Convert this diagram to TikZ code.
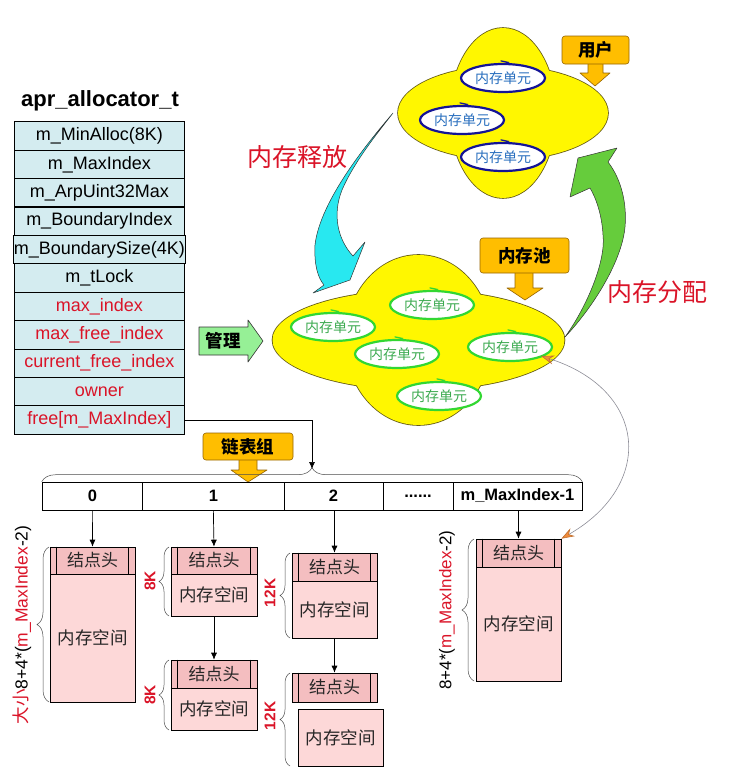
\documentclass[tikz,border=0pt]{standalone}
\usepackage{fontspec}
\setmainfont{Liberation Sans}
\newfontfamily\cjk{Noto Sans CJK SC}
\usetikzlibrary{decorations.pathreplacing,arrows.meta,shapes.geometric,calc}
\definecolor{tabfill}{RGB}{212,236,240}
\definecolor{redtxt}{RGB}{218,20,40}
\definecolor{gold}{RGB}{255,190,0}
\definecolor{goldedge}{RGB}{150,100,0}
\definecolor{cloudy}{RGB}{255,247,0}
\definecolor{cloudedge}{RGB}{100,90,20}
\definecolor{cyanarr}{RGB}{40,232,240}
\definecolor{greenarr}{RGB}{102,204,60}
\definecolor{mgmt}{RGB}{150,240,150}
\definecolor{pinkh}{RGB}{244,190,192}
\definecolor{pinkb}{RGB}{253,216,216}
\definecolor{ublue}{RGB}{20,20,150}
\definecolor{ubluetxt}{RGB}{40,110,190}
\definecolor{ugreen}{RGB}{50,215,50}
\definecolor{ugreentxt}{RGB}{60,170,80}
\definecolor{grayline}{RGB}{140,140,150}
\definecolor{orangetip}{RGB}{240,140,60}
\begin{document}
\begin{tikzpicture}[x=1pt,y=-1pt,
  row/.style={draw, fill=tabfill, minimum width=170, minimum height=28.4, inner sep=0pt, line width=0.6pt, font=\fontsize{18}{19}\selectfont},
  redrow/.style={row, text=redtxt},
  idx/.style={draw, minimum height=28, inner sep=0pt, line width=0.6pt, font=\bfseries\fontsize{16.5}{18}\selectfont},
  hdr/.style={draw, fill=pinkh, inner sep=0pt, line width=0.6pt, minimum width=85, text=black!85, font=\cjk\fontsize{17}{18}\selectfont},
  bdy/.style={draw, fill=pinkb, inner sep=0pt, line width=0.6pt, minimum width=85, text=black!85, font=\cjk\fontsize{17.5}{18}\selectfont},
  brc/.style={decorate, decoration={brace, amplitude=#1}, draw=black!70, line width=0.5pt},
  sz/.style={rotate=90, text=redtxt, font=\bfseries\fontsize{15.5}{16}\selectfont},
  callout/.style={draw=goldedge, fill=gold, rounded corners=3pt, line width=0.6pt, inner sep=0pt, font=\cjk\bfseries\fontsize{17.5}{18}\selectfont},
  calarrow/.style={draw=goldedge, fill=gold, line width=0.6pt, line join=round},
  unitb/.style={ellipse, draw=ublue, line width=2.2pt, fill=white, minimum width=84, minimum height=28, inner sep=0pt, text=ubluetxt, font=\cjk\fontsize{14}{14}\selectfont},
  unitg/.style={unitb, draw=ugreen, text=ugreentxt},
  hookb/.style={ublue, line width=1.3pt, line cap=round},
  hookg/.style={ugreen, line width=1.3pt, line cap=round},
  bigred/.style={text=redtxt, font=\cjk\fontsize{25}{26}\selectfont},
  conn/.style={-{Latex[length=7pt,width=6pt]}, line width=0.7pt}]
\useasboundingbox (0,0) rectangle (751,772);

% ---------- clouds ----------
\draw[cloudedge, line width=1.6pt] (503,113) ellipse [x radius=105, y radius=47];
\draw[cloudedge, line width=1.6pt] (503,113) ellipse [x radius=53, y radius=85];
\fill[cloudy] (503,113) ellipse [x radius=105, y radius=47];
\fill[cloudy] (503,113) ellipse [x radius=53, y radius=85];

\draw[cloudedge, line width=1.6pt] (418.5,340) ellipse [x radius=146, y radius=50];
\draw[cloudedge, line width=1.6pt] (418.5,340) ellipse [x radius=73, y radius=85];
\fill[cloudy] (418.5,340) ellipse [x radius=146, y radius=50];
\fill[cloudy] (418.5,340) ellipse [x radius=73, y radius=85];

% ---------- curved arrows ----------
\draw[fill=greenarr, draw=black!80, line width=0.5pt, line join=round]
  (565,337) .. controls (588,305) and (606,260) .. (603,235)
  .. controls (602,215) and (596,198) .. (590,188)
  -- (570,197) -- (578,158) -- (617,148) -- (608,162)
  .. controls (622,180) and (627,205) .. (625,227)
  .. controls (622,260) and (595,305) .. (565,337) -- cycle;
\draw[fill=cyanarr, draw=black!80, line width=0.5pt, line join=round]
  (393,113) .. controls (370,140) and (320,200) .. (315,245)
  .. controls (314,265) and (318,278) .. (324,285)
  -- (313,293) -- (350,280) -- (365,242) -- (353,256)
  .. controls (338,240) and (332,215) .. (342,190)
  .. controls (355,160) and (380,130) .. (393,113) -- cycle;
\node[bigred] (rel) at (297,157) {内存释放};
\node[bigred] (alloc) at (657,292) {内存分配};

% ---------- memory units ----------
\node[unitb] (u1) at (503,78) {内存单元};
\node[unitb] (u2) at (462,120) {内存单元};
\node[unitb] (u3) at (503,157) {内存单元};
\node[unitg] (pa) at (333,327) {内存单元};
\node[unitg] (pb) at (432,305) {内存单元};
\node[unitg] (pc) at (397,354) {内存单元};
\node[unitg] (pd) at (510,347) {内存单元};
\node[unitg] (pe) at (439,396) {内存单元};
\foreach \u in {u1,u2,u3}
  \draw[hookb] ([xshift=-2pt,yshift=2pt]\u.north) -- ++(7pt,-1.5pt) -- ++(-3pt,-2pt);
\foreach \u in {pa,pb,pc,pd,pe}
  \draw[hookg] ([xshift=-2pt,yshift=2pt]\u.north) -- ++(7pt,-1.5pt) -- ++(-3pt,-2pt);

% ---------- callouts ----------
\draw[calarrow] (588,60) -- (588,73) -- (580,73) -- (595,86) -- (610,73) -- (603,73) -- (603,60) -- cycle;
\node[callout, minimum width=67, minimum height=28] (user) at (595.5,50) {用户};
\draw[calarrow] (515,268) -- (515,288) -- (507,288) -- (525,300) -- (543,288) -- (533,288) -- (533,268) -- cycle;
\node[callout, minimum width=89, minimum height=35] (pool) at (524.5,255.5) {内存池};
\draw[calarrow] (239,455) -- (239,470) -- (231,470) -- (248,482) -- (267,470) -- (257,470) -- (257,455) -- cycle;
\node[callout, minimum width=90, minimum height=27] (list) at (248,446.5) {链表组};

% manage arrow
\draw[fill=mgmt, draw=black!80, line width=0.6pt, line join=round]
  (199,327) -- (248,327) -- (248,320) -- (263,341) -- (248,362) -- (248,355) -- (199,355) -- cycle;
\node[font=\cjk\bfseries\fontsize{17.5}{18}\selectfont] (mg) at (223,341) {管理};

% ---------- allocator table ----------
\node[font=\bfseries\fontsize{22}{23}\selectfont] (title) at (100,101) {apr\_allocator\_t};
\node[row] (r0) at (99.3,135.9) {m\_MinAlloc(8K)};
\node[row] (r1) at (99.3,164.3) {m\_MaxIndex};
\node[row] (r2) at (99.3,192.7) {m\_ArpUint32Max};
\node[row] (r3) at (99.3,221.1) {m\_BoundaryIndex};
\node[row] (r4) at (99.3,249.5) {m\_BoundarySize(4K)};
\node[row] (r5) at (99.3,277.9) {m\_tLock};
\node[redrow] (r6) at (99.3,306.3) {max\_index};
\node[redrow] (r7) at (99.3,334.7) {max\_free\_index};
\node[redrow] (r8) at (99.3,363.1) {current\_free\_index};
\node[redrow] (r9) at (99.3,391.5) {owner};
\node[redrow] (r10) at (99.3,419.9) {free[m\_MaxIndex]};
\foreach \r in {r2,r5,r8}
  \draw[line width=1.6pt] (\r.south west) -- (\r.south east);

% ---------- index array ----------
\node[idx, minimum width=100.7] (c0) at (92.35,496) {0};
\node[idx, minimum width=141.3] (c1) at (213.35,496) {1};
\node[idx, minimum width=99] (c2) at (333.5,496) {2};
\node[idx, minimum width=70] (c3) at (418,496) {......};
\node[idx, minimum width=129] (c4) at (517.5,496) {m\_MaxIndex-1};
\draw[brc=14pt] (c0.north west) -- (c4.north east);
\coordinate (btip) at (312,469);
\draw[conn] (r10.east) -| (btip);

% ---------- list nodes ----------
\node[hdr, minimum height=27] (h0) at (92.5,560.5) {结点头};
\node[bdy, minimum height=128] (b0) at (92.5,638) {内存空间};
\node[hdr, minimum height=27, minimum width=86] (h1a) at (214,560.5) {结点头};
\node[bdy, minimum height=42, minimum width=86] (b1a) at (214,595) {内存空间};
\node[hdr, minimum height=28, minimum width=86] (h1b) at (214,674) {结点头};
\node[bdy, minimum height=42, minimum width=86] (b1b) at (214,709) {内存空间};
\draw[line width=1.4pt] (h1b.south west) -- (h1b.south east);
\node[hdr, minimum height=28] (h2a) at (334.5,567) {结点头};
\node[bdy, minimum height=57] (b2a) at (334.5,609.5) {内存空间};
\node[hdr, minimum height=29] (h2b) at (334.5,687.5) {结点头};
\node[bdy, minimum height=57] (b2b) at (340.5,737.5) {内存空间};
\node[hdr, minimum height=28] (h4) at (518.5,553) {结点头};
\node[bdy, minimum height=114] (b4) at (518.5,624) {内存空间};
\foreach \n in {h0,h1a,h1b,h2a,h2b,h4} {
  \draw[line width=0.6pt] ([xshift=7]\n.north west) -- ([xshift=7]\n.south west);
  \draw[line width=0.6pt] ([xshift=-7]\n.north east) -- ([xshift=-7]\n.south east);
}

\draw[conn] (c0.south) -- (h0.north);
\draw[conn] (c1.south) -- (h1a.north);
\draw[conn] (b1a.south) -- (h1b.north);
\draw[conn] (c2.south -| h2a.north) -- (h2a.north);
\draw[conn] (b2a.south) -- (h2b.north);
\draw[conn] (c4.south -| h4.north) -- (h4.north);

% ---------- braces and sizes ----------
\draw[brc=12pt] (49,702) -- (49,547);
\draw[brc=10pt] (169,616) -- (169,547);
\draw[brc=10pt] (169,730) -- (169,660);
\draw[brc=10pt] (290,638) -- (290,553);
\draw[brc=10pt] (290,766) -- (290,673);
\draw[brc=12pt] (474,681) -- (474,539);
\node[sz] (s1a) at (150,581) {8K};
\node[sz] (s1b) at (150,695) {8K};
\node[sz] (s2a) at (270,593) {12K};
\node[sz] (s2b) at (270,716) {12K};
\node[rotate=90, font=\fontsize{17.5}{18}\selectfont] (lab0) at (22,625)
  {\textcolor{redtxt}{\cjk 大小}8+4*(\textcolor{redtxt}{m\_MaxIndex}-2)};
\node[rotate=90, font=\fontsize{17}{18}\selectfont] (lab4) at (447,610)
  {8+4*(\textcolor{redtxt}{m\_MaxIndex}-2)};

% ---------- pool <-> last node link ----------
\coordinate (pend) at (541,356);
\draw[grayline, line width=0.6pt,
  {Stealth[length=13pt,width=9pt,fill=orangetip,color=orangetip!80!black]}-{Stealth[length=13pt,width=9pt,fill=orangetip,color=orangetip!80!black]}]
  (h4.north east) .. controls (655,485) and (648,390) .. (pend);
\end{tikzpicture}
\end{document}
